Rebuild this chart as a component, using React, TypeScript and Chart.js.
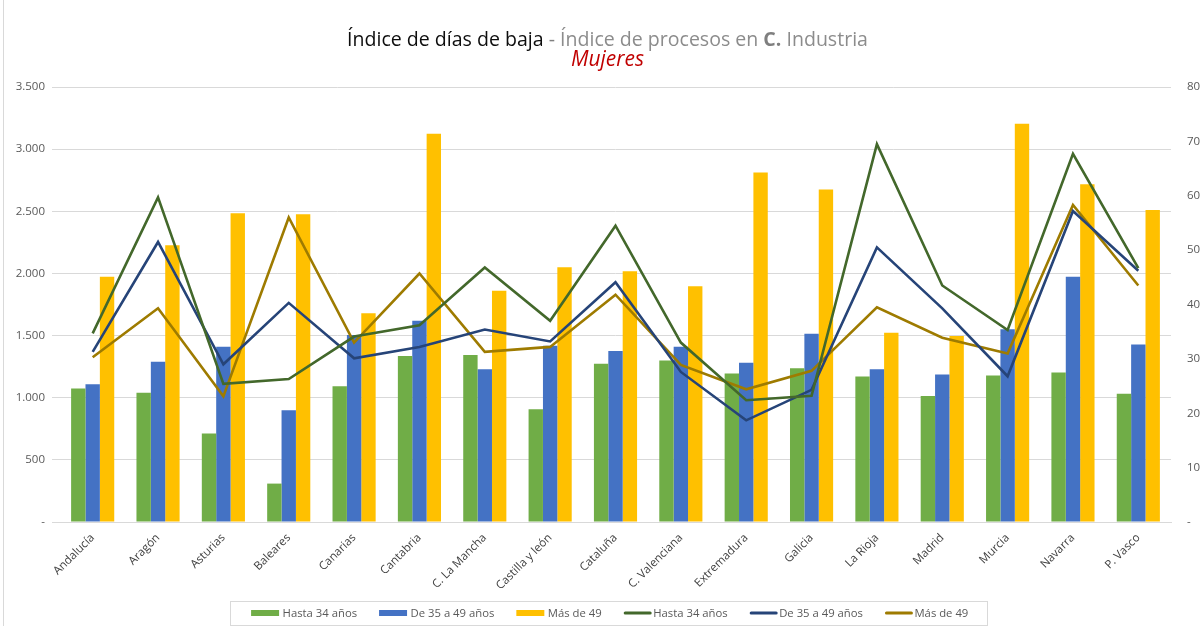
import { useEffect, useRef } from "react";
import { Chart, registerables } from "chart.js";

Chart.register(...registerables);

const categories = [
  "Andalucía", "Aragón", "Asturias", "Baleares", "Canarias", "Cantabria",
  "C. La Mancha", "Castilla y león", "Cataluña", "C. Valenciana", "Extremadura",
  "Galicia", "La Rioja", "Madrid", "Murcia", "Navarra", "P. Vasco",
];

// Bars (left axis): Índice de días de baja
const barHasta34 = [1074, 1039, 712, 309, 1093, 1335, 1343, 908, 1273, 1300, 1195, 1238, 1171, 1013, 1179, 1203, 1031];
const bar35a49 = [1109, 1289, 1410, 900, 1504, 1620, 1230, 1418, 1375, 1410, 1281, 1515, 1230, 1187, 1550, 1974, 1429];
const barMas49 = [1974, 2227, 2484, 2476, 1679, 3124, 1861, 2049, 2017, 1896, 2812, 2675, 1523, 1496, 3204, 2718, 2511];

// Lines (right axis): Índice de procesos
const lineHasta34 = [34.7, 59.7, 25.4, 26.3, 34.1, 36.2, 46.8, 37.0, 54.5, 33.0, 22.4, 23.2, 69.5, 43.5, 35.3, 67.7, 46.7];
const line35a49 = [31.3, 51.5, 29.0, 40.3, 30.1, 32.2, 35.4, 33.2, 44.1, 27.6, 18.7, 24.3, 50.5, 39.3, 26.8, 57.2, 46.2];
const lineMas49 = [30.3, 39.3, 23.1, 56.0, 33.0, 45.7, 31.3, 32.2, 41.8, 28.9, 24.4, 27.8, 39.5, 33.9, 31.0, 58.3, 43.5];

const seriesLabels = ["Hasta 34 años", "De 35 a 49 años", "Más de 49"];

const FONT = "'Open Sans', 'DejaVu Sans', sans-serif";

function fmtThousands(v: number): string {
  if (v === 0) return "-";
  return String(v).replace(/\B(?=(\d{3})+(?!\d))/g, ".");
}

const decorPlugin = {
  id: "decor",
  afterDraw(chart: any) {
    const ctx: CanvasRenderingContext2D = chart.ctx;
    ctx.save();
    // outer left border
    ctx.strokeStyle = "#d9d9d9";
    ctx.lineWidth = 1;
    ctx.beginPath();
    ctx.moveTo(3.5, 0);
    ctx.lineTo(3.5, 626);
    ctx.stroke();

    // Title
    const cx = 607.5;
    const segs = [
      { t: "Índice de días de baja", c: "#0d0d0d", w: "normal" },
      { t: " - ", c: "#7f7f7f", w: "normal" },
      { t: "Índice de procesos en ", c: "#8c8c8c", w: "normal" },
      { t: "C.", c: "#7f7f7f", w: "bold" },
      { t: " Industria", c: "#8c8c8c", w: "normal" },
    ];
    const base = 20;
    let total = 0;
    for (const s of segs) {
      ctx.font = `${s.w} ${base}px ${FONT}`;
      total += ctx.measureText(s.t).width;
    }
    const size = (base * 521) / total;
    let tw = 0;
    const widths: number[] = [];
    for (const s of segs) {
      ctx.font = `${s.w} ${size}px ${FONT}`;
      const w = ctx.measureText(s.t).width;
      widths.push(w);
      tw += w;
    }
    let x = cx - tw / 2;
    ctx.textBaseline = "alphabetic";
    ctx.textAlign = "left";
    segs.forEach((s, i) => {
      ctx.font = `${s.w} ${size}px ${FONT}`;
      ctx.fillStyle = s.c;
      ctx.fillText(s.t, x, 46);
      x += widths[i];
    });

    // Subtitle
    ctx.font = `italic ${base}px ${FONT}`;
    const mw = ctx.measureText("Mujeres").width;
    const msize = (base * 73) / mw;
    ctx.font = `italic ${msize}px ${FONT}`;
    ctx.fillStyle = "#c00000";
    ctx.textAlign = "center";
    ctx.fillText("Mujeres", cx, 66);

    // Legend
    const ds = chart.data.datasets;
    ctx.font = `11.3px ${FONT}`;
    ctx.textAlign = "left";
    ctx.textBaseline = "middle";
    const items = ds.map((d: any) => ({
      label: d.label,
      isLine: d.type === "line",
      color: d.type === "line" ? d.borderColor : d.backgroundColor,
      tw: ctx.measureText(d.label).width,
    }));
    const markerW = 28;
    const gapItem = 22;
    let groupW = 0;
    items.forEach((it: any, i: number) => {
      groupW += markerW + (it.isLine ? 1.5 : 3.5) + it.tw;
      if (i < items.length - 1) groupW += gapItem;
    });
    const gx0 = 609.7 - groupW / 2;
    const ly = 613;
    let lx = gx0;
    for (const it of items) {
      if (it.isLine) {
        ctx.strokeStyle = it.color;
        ctx.lineWidth = 3;
        ctx.lineCap = "round";
        ctx.beginPath();
        ctx.moveTo(lx + 1.5, ly);
        ctx.lineTo(lx + markerW - 1.5, ly);
        ctx.stroke();
        lx += markerW + 1.5;
      } else {
        ctx.fillStyle = it.color;
        ctx.fillRect(lx, ly - 3, markerW, 6);
        lx += markerW + 3.5;
      }
      ctx.fillStyle = "#595959";
      ctx.fillText(it.label, lx, ly + 0.5);
      lx += it.tw + gapItem;
    }
    const boxL = gx0 - 21.5;
    const boxR = gx0 + groupW + 18.5;
    ctx.strokeStyle = "#d9d9d9";
    ctx.lineWidth = 1;
    ctx.strokeRect(Math.round(boxL) + 0.5, 601.5, Math.round(boxR - boxL), 24);
    ctx.restore();
  },
};

export default function App() {
  const ref = useRef<HTMLCanvasElement | null>(null);

  useEffect(() => {
    if (!ref.current) return;
    const barCommon = { type: "bar" as const, yAxisID: "y", order: 1, borderWidth: 0 };
    const lineCommon = {
      type: "line" as const,
      yAxisID: "y1",
      order: 0,
      borderWidth: 2.6,
      pointRadius: 0,
      fill: false,
      tension: 0,
    };
    const chart = new Chart(ref.current, {
      type: "bar",
      data: {
        labels: categories,
        datasets: [
          { ...barCommon, label: seriesLabels[0], data: barHasta34, backgroundColor: "#70ad47" },
          { ...barCommon, label: seriesLabels[1], data: bar35a49, backgroundColor: "#4472c4" },
          { ...barCommon, label: seriesLabels[2], data: barMas49, backgroundColor: "#ffc000" },
          { ...lineCommon, label: seriesLabels[0], data: lineHasta34, borderColor: "#43682b", backgroundColor: "#43682b" },
          { ...lineCommon, label: seriesLabels[1], data: line35a49, borderColor: "#264478", backgroundColor: "#264478" },
          { ...lineCommon, label: seriesLabels[2], data: lineMas49, borderColor: "#9e7b00", backgroundColor: "#9e7b00" },
        ] as any,
      },
      options: {
        animation: false,
        responsive: false,
        devicePixelRatio: 1,
        layout: { padding: { top: 87, left: 0, right: 0, bottom: 0 } },
        datasets: { bar: { categoryPercentage: 0.66, barPercentage: 1.0 } },
        plugins: {
          legend: { display: false },
          title: { display: false },
          tooltip: { enabled: false },
        },
        scales: {
          x: {
            offset: true,
            grid: { display: true, drawOnChartArea: false, drawTicks: false },
            border: { display: true, color: "#d9d9d9", width: 1 },
            ticks: {
              minRotation: 45,
              maxRotation: 45,
              autoSkip: false,
              padding: 9,
              color: "#404040",
              font: { family: FONT, size: 11.5 },
            },
            afterFit: (s: any) => { s.height = 104; },
          },
          y: {
            position: "left",
            min: 0,
            max: 3500,
            ticks: {
              stepSize: 500,
              padding: 7,
              color: "#595959",
              font: { family: FONT, size: 11.5 },
              callback: (v: any) => fmtThousands(Number(v)),
            },
            grid: { color: "#d9d9d9", tickLength: 8, tickColor: "#d9d9d9", drawTicks: true },
            border: { display: false },
            afterFit: (s: any) => { s.width = 60; },
          },
          y1: {
            position: "right",
            min: 0,
            max: 80,
            ticks: {
              stepSize: 10,
              padding: 16,
              color: "#595959",
              font: { family: FONT, size: 11.5 },
              callback: (v: any) => (Number(v) === 0 ? "-" : String(v)),
            },
            grid: { display: false, drawTicks: false },
            border: { display: false },
            afterFit: (s: any) => { s.width = 30; },
          },
        },
      } as any,
      plugins: [decorPlugin],
    });
    return () => chart.destroy();
  }, []);

  return (
    <div style={{ position: "fixed", left: 0, top: 0, width: 1201, height: 626, background: "#ffffff" }}>
      <canvas ref={ref} width={1201} height={626} style={{ display: "block" }} />
    </div>
  );
}
